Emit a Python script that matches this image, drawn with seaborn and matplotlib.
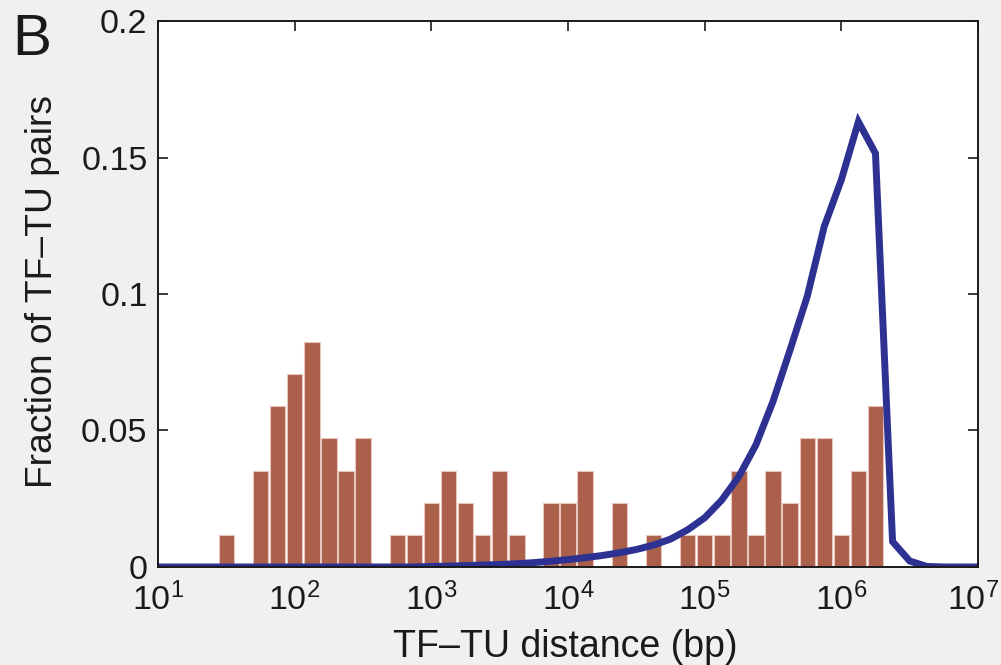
import numpy as np
import matplotlib
matplotlib.use("Agg")
import matplotlib.pyplot as plt
import matplotlib.transforms as mtransforms
import seaborn as sns

# Histogram of observed TF-TU distances (bins 1/8 decade wide, centres in log10 bp)
bin_log_centers = np.arange(1.5, 6.5 + 1e-9, 0.125)
pair_fraction = [
    0.0118, 0.0, 0.0353, 0.0588, 0.0706, 0.0824, 0.0471, 0.0353,
    0.0471, 0.0, 0.0118, 0.0118, 0.0235, 0.0353, 0.0235, 0.0118,
    0.0353, 0.0118, 0.0, 0.0235, 0.0235, 0.0353, 0.0, 0.0235,
    0.0, 0.0118, 0.0, 0.0118, 0.0118, 0.0118, 0.0353, 0.0118,
    0.0353, 0.0235, 0.0471, 0.0471, 0.0118, 0.0353, 0.0588, 0.0, 0.0,
]

# Background distribution of TF-TU distances (log10 bp, fraction)
curve_log_x = [
    1.0, 1.5, 2.0, 2.5, 2.875, 3.0, 3.125, 3.25, 3.375, 3.5, 3.625, 3.75,
    3.875, 4.0, 4.125, 4.25, 4.375, 4.5, 4.625, 4.75, 4.875, 5.0, 5.125,
    5.25, 5.375, 5.5, 5.625, 5.75, 5.875, 6.0, 6.125, 6.25, 6.375, 6.5,
    6.625, 6.75, 7.0,
]
curve_fraction = [
    0.0, 0.0, 0.0, 0.0, 0.0, 0.0002, 0.0003, 0.0005, 0.0007, 0.0009, 0.0012,
    0.0016, 0.0021, 0.0027, 0.0034, 0.0042, 0.0052, 0.0064, 0.0080, 0.0102,
    0.0136, 0.0180, 0.0245, 0.0331, 0.0447, 0.0606, 0.0795, 0.0990, 0.1247,
    0.1418, 0.1631, 0.1515, 0.0093, 0.0022, 0.0002, 0.0, 0.0,
]

y_ticks = [0, 0.05, 0.1, 0.15, 0.2]
y_tick_labels = ["0", "0.05", "0.1", "0.15", "0.2"]
x_ticks = [1e1, 1e2, 1e3, 1e4, 1e5, 1e6, 1e7]
x_tick_labels = [r"$\mathdefault{10^{%d}}$" % k for k in range(1, 8)]

sns.set_theme(style="white")
plt.rcParams["font.family"] = ["Liberation Sans", "DejaVu Sans"]
plt.rcParams["mathtext.fontset"] = "custom"
plt.rcParams["mathtext.rm"] = "Liberation Sans"

BAR_COLOR = "#AA604B"
LINE_COLOR = "#2D3292"
BG = "#F0F0F0"
INK = "#1a1a1a"

fig = plt.figure(figsize=(10.01, 6.65), dpi=100, facecolor=BG)
ax = fig.add_axes([0.1578, 0.1474, 0.8192, 0.8210])
ax.set_facecolor("white")

bin_w = 0.125
sns.histplot(
    x=10 ** bin_log_centers, weights=pair_fraction, log_scale=True,
    binwidth=bin_w,
    binrange=(bin_log_centers[0] - bin_w / 2, bin_log_centers[-1] + bin_w / 2),
    shrink=0.9, color=BAR_COLOR, alpha=1.0, edgecolor="#E9C6BC",
    linewidth=0.8, ax=ax, zorder=2,
)
# dark baseline under the bars
base_x = 10 ** np.array([bin_log_centers[0] - bin_w / 2, bin_log_centers[-1] + bin_w / 2])
ax.plot(base_x, [0, 0], color="#4A1E12", lw=1.0, zorder=2.5)

sns.lineplot(
    x=10 ** np.array(curve_log_x), y=curve_fraction, color=LINE_COLOR,
    linewidth=5.0, ax=ax, zorder=3, solid_joinstyle="miter",
)

ax.set_xscale("log")
ax.set_xlim(1e1, 1e7)
ax.set_ylim(0, 0.2)
ax.set_xticks(x_ticks)
ax.set_xticklabels(x_tick_labels)
ax.minorticks_off()
ax.set_yticks(y_ticks)
ax.set_yticklabels(y_tick_labels)

ax.tick_params(axis="both", which="major", direction="in", length=7,
               width=1.2, color=INK, top=True, right=True,
               bottom=True, left=True)
ax.tick_params(axis="y", labelsize=24.5, pad=7.5)
ax.tick_params(axis="x", labelsize=24.5, pad=11)
for s in ax.spines.values():
    s.set_visible(True)
    s.set_color(INK)
    s.set_linewidth(1.4)
    s.set_zorder(5)

# keep the rightmost decade label inside the figure
last = ax.get_xticklabels()[-1]
last.set_transform(last.get_transform() +
                   mtransforms.ScaledTranslation(-5 / 100, 0, fig.dpi_scale_trans))

ax.set_xlabel("TF\u2013TU distance (bp)", fontsize=27, color=INK)
ax.set_ylabel("Fraction of TF\u2013TU pairs", fontsize=26.8, color=INK)
ax.xaxis.set_label_coords(0.497, -0.114)
ax.yaxis.set_label_coords(-0.119, 0.505)
for lab in ax.get_xticklabels() + ax.get_yticklabels():
    lab.set_color(INK)

fig.text(0.012, 0.918, "B", fontsize=42, color=INK)

fig.savefig("out.png", dpi=100, facecolor=BG)
